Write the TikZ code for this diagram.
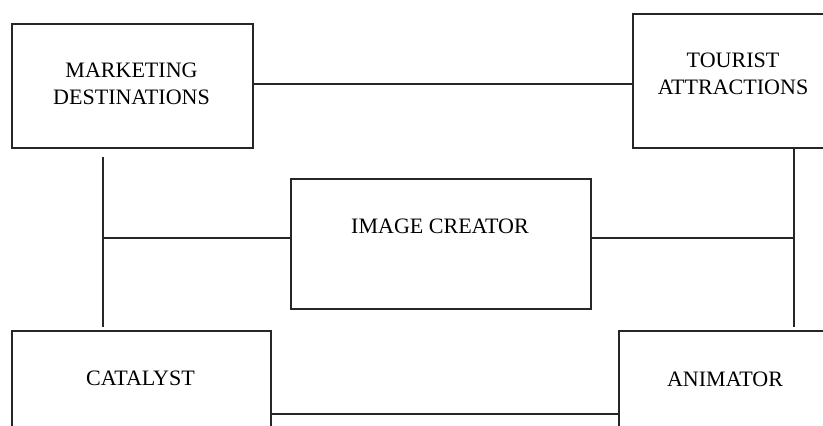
\documentclass[tikz,border=0pt]{standalone}
\usepackage{fontspec}
\setmainfont{Liberation Serif}
\usetikzlibrary{positioning}

\begin{document}
\begin{tikzpicture}[x=0.03cm,y=-0.03cm,line width=1.3pt,draw=black!85]

        \useasboundingbox (0,0) rectangle (823,425);
        \clip (0,0) rectangle (823,425);

        \begin{scope}[every node/.style={draw=black!85,line width=1.5pt,rectangle,anchor=north west,inner sep=0pt}]
          \node[minimum width=241*0.03cm,minimum height=124*0.03cm] (md)  at (11,23)  {};
          \node[minimum width=202*0.03cm,minimum height=134*0.03cm] (ta)  at (632,13) {};
          \node[minimum width=300*0.03cm,minimum height=130*0.03cm] (ic)  at (290,178) {};
          \node[minimum width=259*0.03cm,minimum height=120*0.03cm] (cat) at (11,330) {};
          \node[minimum width=214*0.03cm,minimum height=120*0.03cm] (ani) at (618,330) {};
        \end{scope}

        \begin{scope}[every node/.style={align=center,inner sep=0pt,font=\fontsize{18.8}{23.2}\selectfont}]
          \node (mdtext)  at (131.5,84)  {MARKETING\\DESTINATIONS};
          \node (tatext)  at (733,74)    {TOURIST\\ATTRACTIONS};
          \node (ictext)  at (440,226.5) {IMAGE CREATOR};
          \node (cattext) at (140.5,378) {CATALYST};
          \node (anitext) at (725,379)   {ANIMATOR};
        \end{scope}

        \coordinate (lt) at (103,157);
        \coordinate (lj) at (103,238);
        \coordinate (lb) at (103,327);
        \coordinate (rj) at (794,238);
        \coordinate (rb) at (794,327);
        \coordinate (bj) at (0,414);

        \draw (md.east |- 0,84) -- (ta.west |- 0,84);
        \draw (lt) -- (lb);
        \draw (lj) -- (lj -| ic.west);
        \draw (ta.south -| rj) -- (rb);
        \draw (ic.east |- rj) -- (rj);
        \draw (cat.east |- bj) -- (ani.west |- bj);

      \end{tikzpicture}
\end{document}
